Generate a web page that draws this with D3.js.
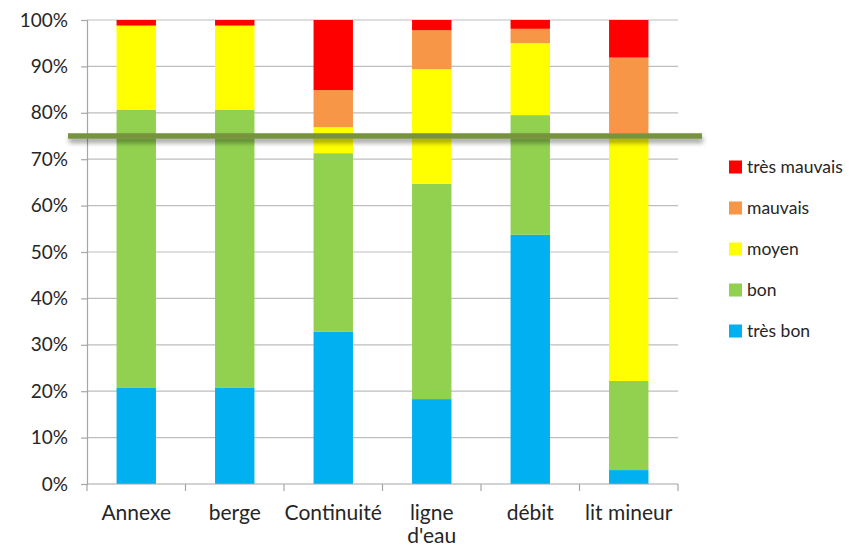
<!DOCTYPE html>
<html>
<head>
<meta charset="utf-8">
<script src="https://cdn.jsdelivr.net/npm/d3@7"></script>
<style>
  html, body { margin: 0; padding: 0; background: #fff; }
  svg text { font-family: Lato, "Open Sans", sans-serif; fill: #262626; }
</style>
</head>
<body>
<svg id="chart" width="864" height="549"></svg>
<script>
const categories = ["Annexe", "berge", "Continuité", "ligne d'eau", "débit", "lit mineur"];
const seriesNames = ["très bon", "bon", "moyen", "mauvais", "très mauvais"];
const seriesColors = ["#00B0F0", "#92D050", "#FFFF00", "#F79646", "#FF0000"];
const tresBon     = [20.7, 20.7, 32.8, 18.3, 53.7, 3.0];
const bon         = [59.9, 59.9, 38.5, 46.4, 25.8, 19.2];
const moyen       = [18.2, 18.2, 5.6, 24.7, 15.5, 53.3];
const mauvais     = [0.0, 0.0, 8.0, 8.4, 3.1, 16.4];
const tresMauvais = [1.2, 1.2, 15.1, 2.2, 1.9, 8.1];
const yTicks = [0, 10, 20, 30, 40, 50, 60, 70, 80, 90, 100];
const threshold = 75;

const seriesValues = [tresBon, bon, moyen, mauvais, tresMauvais];
const rows = categories.map((c, i) => {
  const r = { cat: c };
  seriesNames.forEach((s, k) => r[s] = seriesValues[k][i]);
  return r;
});

const svg = d3.select("#chart");
const m = { left: 87, right: 678, top: 20, bottom: 484 };

const x = d3.scaleBand().domain(categories).range([m.left, m.right]).paddingInner(0.6).paddingOuter(0.3);
const xb = d3.scaleBand().domain(categories).range([m.left, m.right]);
const y = d3.scaleLinear().domain([0, 100]).range([m.bottom, m.top]);

// gridlines
svg.append("g").selectAll("line").data(yTicks.filter(d => d > 0)).join("line")
  .attr("x1", m.left).attr("x2", m.right)
  .attr("y1", d => y(d)).attr("y2", d => y(d))
  .attr("stroke", "#BEBEBE").attr("stroke-width", 1.2);

// y axis
const yAxis = svg.append("g").attr("transform", `translate(${m.left},0)`)
  .call(d3.axisLeft(y).tickValues(yTicks).tickFormat(d => d + "%").tickSize(6).tickPadding(13));
yAxis.select(".domain").attr("stroke", "#A6A6A6").attr("stroke-width", 1.2);
yAxis.selectAll(".tick line").attr("stroke", "#A6A6A6").attr("stroke-width", 1.2);
yAxis.selectAll("text").attr("font-size", 19).attr("font-family", "Lato, sans-serif").attr("fill", "#262626");

// stacked bars
const stack = d3.stack().keys(seriesNames)(rows);
svg.append("g").selectAll("g").data(stack).join("g")
  .attr("fill", (d, i) => seriesColors[i])
  .selectAll("rect").data(d => d).join("rect")
  .attr("x", d => x(d.data.cat))
  .attr("width", x.bandwidth())
  .attr("y", d => y(d[1]))
  .attr("height", d => y(d[0]) - y(d[1]));

// x axis
const xAxisG = svg.append("g").attr("transform", `translate(0,${m.bottom})`);
xAxisG.append("line").attr("x1", m.left).attr("x2", m.right).attr("stroke", "#A6A6A6").attr("stroke-width", 1.2);
const bounds = categories.map(c => xb(c)).concat([m.right]);
xAxisG.selectAll("line.tk").data(bounds).join("line").attr("class", "tk")
  .attr("x1", d => d).attr("x2", d => d).attr("y1", 0).attr("y2", 7)
  .attr("stroke", "#A6A6A6").attr("stroke-width", 1.2);
const xl = xAxisG.selectAll("text").data(categories).join("text")
  .attr("x", d => xb(d) + xb.bandwidth() / 2)
  .attr("y", 36)
  .attr("text-anchor", "middle")
  .attr("font-size", 21);
xl.each(function(d) {
  const t = d3.select(this);
  const words = d === "ligne d'eau" ? ["ligne", "d'eau"] : [d];
  words.forEach((w, i) => t.append("tspan").attr("x", xb(d) + xb.bandwidth() / 2).attr("dy", i === 0 ? 0 : 23).text(w));
});

// threshold line with shadow
const defs = svg.append("defs");
const f = defs.append("filter").attr("id", "sh").attr("filterUnits", "userSpaceOnUse")
  .attr("x", 50).attr("y", 110).attr("width", 680).attr("height", 60);
f.append("feGaussianBlur").attr("in", "SourceAlpha").attr("stdDeviation", 2.5).attr("result", "b");
f.append("feOffset").attr("in", "b").attr("dx", 1).attr("dy", 4).attr("result", "o");
f.append("feComponentTransfer").attr("in", "o").attr("result", "o2")
  .append("feFuncA").attr("type", "linear").attr("slope", 0.4);
const mg = f.append("feMerge");
mg.append("feMergeNode").attr("in", "o2");
mg.append("feMergeNode").attr("in", "SourceGraphic");
svg.append("rect")
  .attr("x", 68).attr("width", 702 - 68)
  .attr("y", y(threshold) - 2.75).attr("height", 5.5)
  .attr("fill", "#77933C")
  .attr("filter", "url(#sh)");

// legend
const legendOrder = seriesNames.map((s, i) => ({ s, c: seriesColors[i] })).reverse();
const lg = svg.append("g").selectAll("g").data(legendOrder).join("g")
  .attr("transform", (d, i) => `translate(729,${167 + i * 41})`);
lg.append("rect").attr("x", 0).attr("y", -6.5).attr("width", 13).attr("height", 13).attr("fill", d => d.c);
lg.append("text").attr("x", 18).attr("y", 0).attr("dy", "0.35em").attr("font-size", 17.5).text(d => d.s);
</script>
</body>
</html>
